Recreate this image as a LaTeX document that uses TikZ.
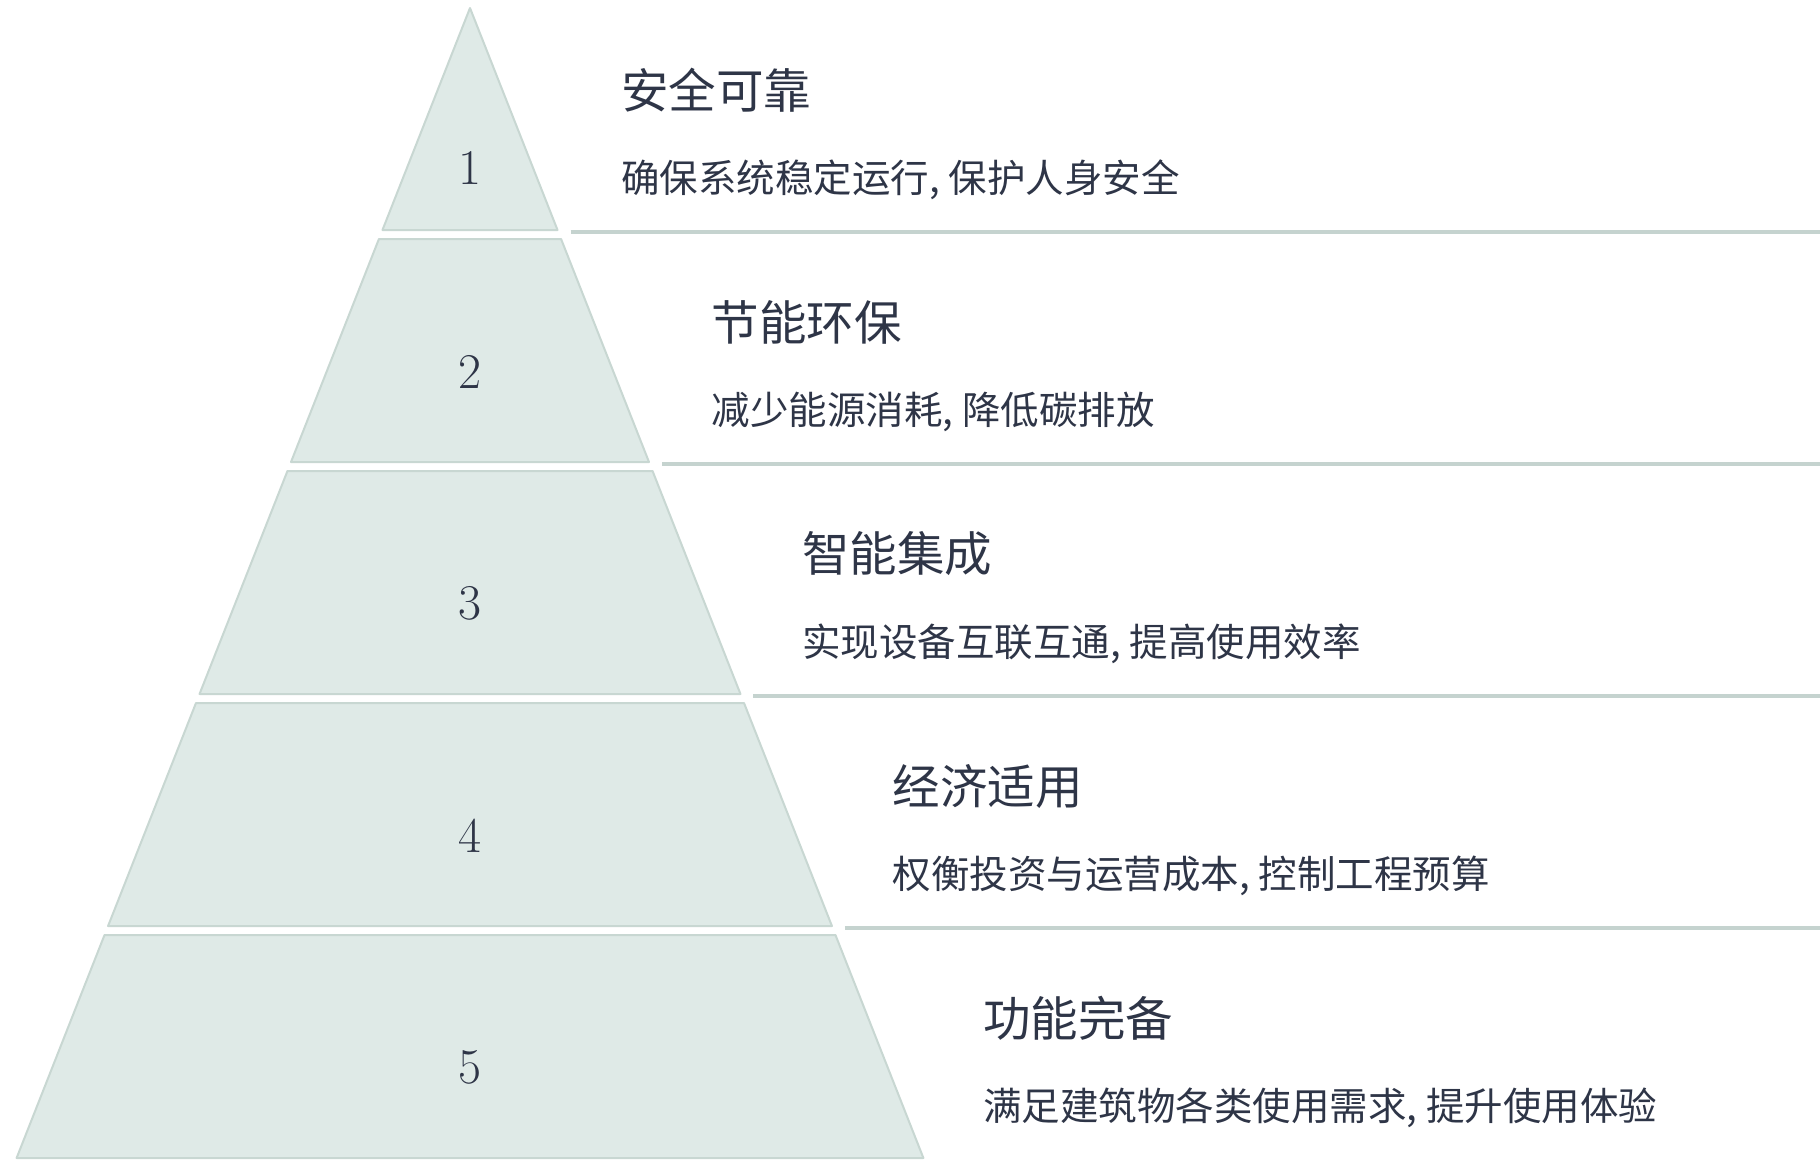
\documentclass[tikz,border=0pt]{standalone}
\usepackage{fontspec}
\newfontfamily\cjk{Noto Sans CJK SC}
\definecolor{tierfill}{RGB}{223,234,231}
\definecolor{tierdraw}{RGB}{200,215,210}
\definecolor{sepline}{RGB}{197,211,207}
\definecolor{ink}{RGB}{46,53,71}
\begin{document}
\begin{tikzpicture}[x=1pt,y=-1pt,
  tier/.style={fill=tierfill,draw=tierdraw,line width=2pt,line join=round},
  sepl/.style={draw=sepline,line width=3.5pt},
  num/.style={text=ink,inner sep=0,font=\fontsize{50}{60}\selectfont},
  ttl/.style={anchor=west,text=ink,inner sep=0,font=\cjk\fontsize{47.5}{56}\selectfont},
  dsc/.style={anchor=west,text=ink,inner sep=0,font=\cjk\fontsize{38.5}{46}\selectfont}]
\useasboundingbox (0,0) rectangle (1820,1159);
\fill[white] (0,0) rectangle (1820,1159);
\foreach \k/\mytitle/\mydesc in {0/安全可靠/{确保系统稳定运行, 保护人身安全},
                        1/节能环保/{减少能源消耗, 降低碳排放},
                        2/智能集成/{实现设备互联互通, 提高使用效率},
                        3/经济适用/{权衡投资与运营成本, 控制工程预算},
                        4/功能完备/{满足建筑物各类使用需求, 提升使用体验}}{
  \pgfmathsetmacro\ybot{230+232*\k}
  \pgfmathsetmacro\ytop{\k==0 ? 8 : 7+232*\k}
  \pgfmathsetmacro\hwt{(\ytop-8)*0.39426}
  \pgfmathsetmacro\hwb{(\ybot-8)*0.39426}
  \pgfmathsetmacro\ynum{\k==0 ? 168 : 139.5+232*\k}
  \pgfmathtruncatemacro\lbl{\k+1}
  \draw[tier] (470-\hwt,\ytop) -- (470+\hwt,\ytop) -- (470+\hwb,\ybot) -- (470-\hwb,\ybot) -- cycle;
  \node[num] (n\k) at (470,\ynum) {\lbl};
  \node[ttl] (t\k) at (621+90.5*\k, 90+232*\k) {\mytitle};
  \node[dsc] (d\k) at (621+90.5*\k, 180+232*\k) {\mydesc};
}
\foreach \k in {0,1,2,3}{
  \pgfmathsetmacro\ybot{230+232*\k}
  \pgfmathsetmacro\hwb{(\ybot-8)*0.39426}
  \coordinate (s\k) at (470+\hwb+13, 232+232*\k);
  \coordinate (e\k) at (1820, 232+232*\k);
  \draw[sepl] (s\k) -- (e\k);
}
\end{tikzpicture}
\end{document}
